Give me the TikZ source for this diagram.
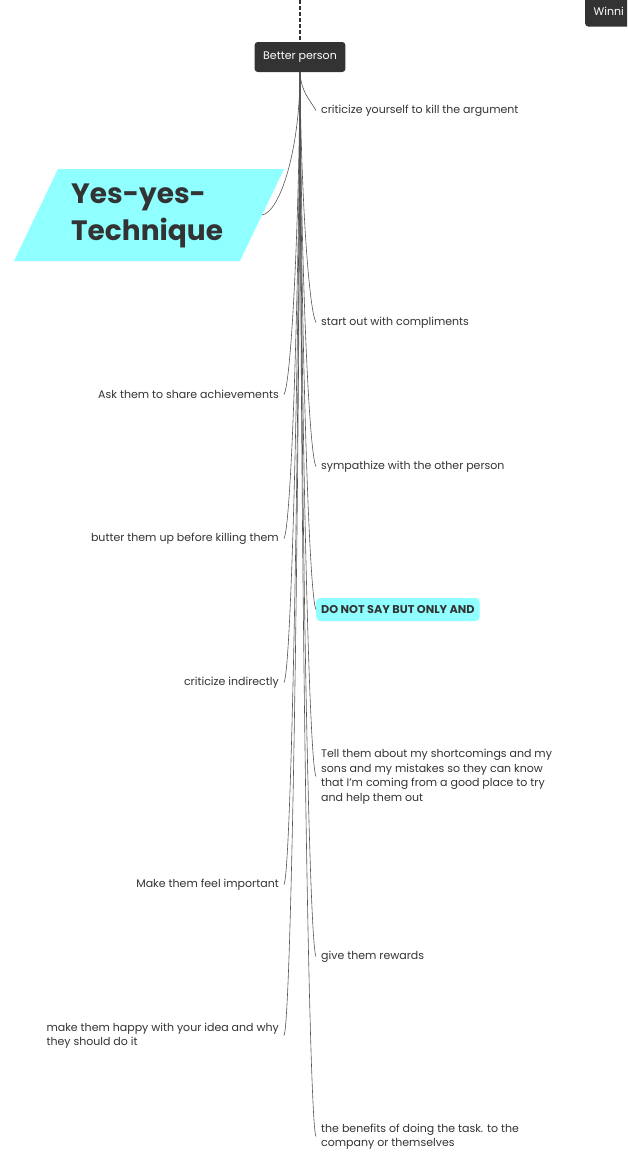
\documentclass[tikz,border=0pt]{standalone}
\usepackage{fontspec}
\setmainfont{Poppins}
\usetikzlibrary{calc}
\definecolor{ink}{HTML}{333333}
\definecolor{aqua}{HTML}{8FFFFF}
\definecolor{wirecol}{HTML}{555555}
\tikzset{
    topic/.style={fill=ink, text=white, rounded corners=3pt, minimum height=30pt, inner xsep=8.5pt, font=\fontsize{11}{12}\selectfont}, % dark boxes
    leaf/.style={text=ink, inner xsep=5pt, inner ysep=1pt, align=left, font=\fontsize{11}{14.5}\selectfont}, % plain texts
    rleaf/.style={leaf, anchor=west},
    lleaf/.style={leaf, anchor=east},
    wire/.style={draw=wirecol, line width=0.6pt}
}

\begin{document}
\begin{tikzpicture}[x=1pt, y=-1pt]
    \useasboundingbox (0,0) rectangle (627,1160);
    \clip (0,0) rectangle (627,1160);

    \draw[ink, line width=1.6pt, dash pattern=on 4pt off 2pt] (300,0) -- (300,40);
    \node[topic] (root) at (300,57) {Better person};
    \node[topic, anchor=west, text width=60pt, minimum height=30pt] (win) at (585,11.5) {Winni};

    % title
    \fill[aqua] (58,169) -- (284,169) -- (240,261) -- (14,261) -- cycle;
    \node[anchor=west, text=ink, align=left, inner sep=0pt, font=\fontsize{28}{37}\selectfont\bfseries] (yes) at (71,216) {Yes-yes-\\Technique};
    \coordinate (yesend) at (262,215);

    % right side
    \node[rleaf] (r1) at (316,110.5) {criticize yourself to kill the argument};
    \node[rleaf] (r2) at (316,322.5) {start out with compliments};
    \node[rleaf] (r3) at (316,466.5) {sympathize with the other person};
    \node[rleaf, fill=aqua, rounded corners=4pt, minimum height=23pt, font=\fontsize{11.3}{12}\selectfont\bfseries] (r4) at (316,609.5) {DO NOT SAY BUT ONLY AND};
    \node[rleaf] (r5) at (316,776.5) {Tell them about my shortcomings and my\\sons and my mistakes so they can know\\that I’m coming from a good place to try\\and help them out};
    \node[rleaf] (r6) at (316,956.5) {give them rewards};
    \node[rleaf] (r7) at (316,1136.5) {the benefits of doing the task. to the\\company or themselves};

    % left side
    \node[lleaf] (l1) at (284,394.5) {Ask them to share achievements};
    \node[lleaf] (l2) at (284,538.5) {butter them up before killing them};
    \node[lleaf] (l3) at (284,682.5) {criticize indirectly};
    \node[lleaf] (l4) at (284,884.5) {Make them feel important};
    \node[lleaf] (l5) at (284,1035.5) {make them happy with your idea and why\\they should do it};

    % connectors
    \foreach \n in {r1,r2,r3,r4,r5,r6,r7} {
        \draw[wire] (root.south) .. controls ($(root.south)!0.5!(root.south |- \n.west)+(1,0)$) and ($(\n.west)+(-7,-12)$) .. (\n.west);
    }
    \foreach \n in {l1,l2,l3,l4,l5} {
        \draw[wire] (root.south) .. controls ($(root.south)!0.5!(root.south |- \n.east)+(-1,0)$) and ($(\n.east)+(7,-12)$) .. (\n.east);
    }
    \draw[wire] (root.south) .. controls (300,150) and (280,212) .. (yesend);
\end{tikzpicture}
\end{document}
